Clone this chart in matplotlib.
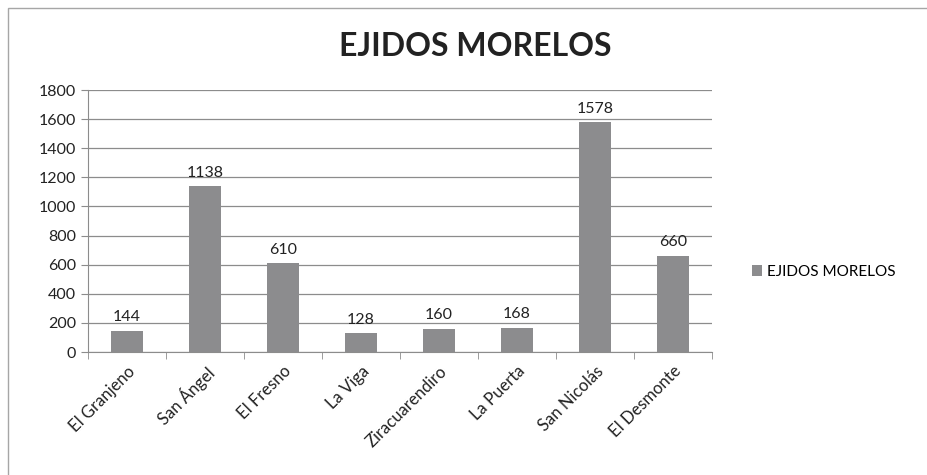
import numpy as np
import matplotlib.pyplot as plt
from matplotlib.patches import Rectangle

categorias = ['El Granjeno', 'San Ángel', 'El Fresno', 'La Viga',
              'Ziracuarendiro', 'La Puerta', 'San Nicolás', 'El Desmonte']
valores = [144, 1138, 610, 128, 160, 168, 1578, 660]
serie = 'EJIDOS MORELOS'

plt.rcParams['font.family'] = ['Lato', 'DejaVu Sans']

fig = plt.figure(figsize=(9.28, 4.75), dpi=100)
fig.patches.append(Rectangle((8 / 928, -0.1), 1.2, 1 - 8 / 475 + 0.1,
                             transform=fig.transFigure, fill=False,
                             edgecolor='#a6a6a6', linewidth=1.0))
ax = fig.add_axes([88 / 928, 1 - 352 / 475, (712 - 88) / 928, (352 - 90) / 475])

x = np.arange(len(categorias))
barras = ax.bar(x, valores, width=0.4, color='#8c8c8e', label=serie, zorder=3)
for xi, v in zip(x, valores):
    ax.text(xi, v + 45, str(v), ha='center', va='bottom', fontsize=11.5, color='#222222')

ax.set_xlim(-0.5, len(categorias) - 0.5)
ax.set_ylim(0, 1800)
ax.set_yticks(np.arange(0, 1801, 200))
ax.yaxis.grid(True, color='#8c8c8c', linewidth=0.9, zorder=0)
ax.tick_params(axis='y', labelsize=11.5, length=5, color='#8c8c8c', labelcolor='#222222')

ax.set_xticks(x)
ax.set_xticklabels(categorias, rotation=45, ha='right', rotation_mode='anchor', fontsize=12, color='#222222')
ax.tick_params(axis='x', length=0, pad=8)
ax.set_xticks(np.arange(-0.5, len(categorias)), minor=True)
ax.tick_params(axis='x', which='minor', length=5, color='#8c8c8c')

for s in ['top', 'right']:
    ax.spines[s].set_visible(False)
ax.spines['left'].set_color('#8c8c8c')
ax.spines['bottom'].set_color('#8c8c8c')

fig.text(475 / 928, 1 - 47 / 475, 'EJIDOS MORELOS', ha='center', va='center',
         fontsize=23, fontweight='bold', color='#222222')

fig.legend(handles=[barras], labels=[serie], loc='center left',
           bbox_to_anchor=(738 / 928, 1 - 272 / 475), frameon=False,
           handlelength=0.7, handleheight=0.7, handletextpad=0.3, fontsize=11)

fig.savefig('out.png', dpi=100)
